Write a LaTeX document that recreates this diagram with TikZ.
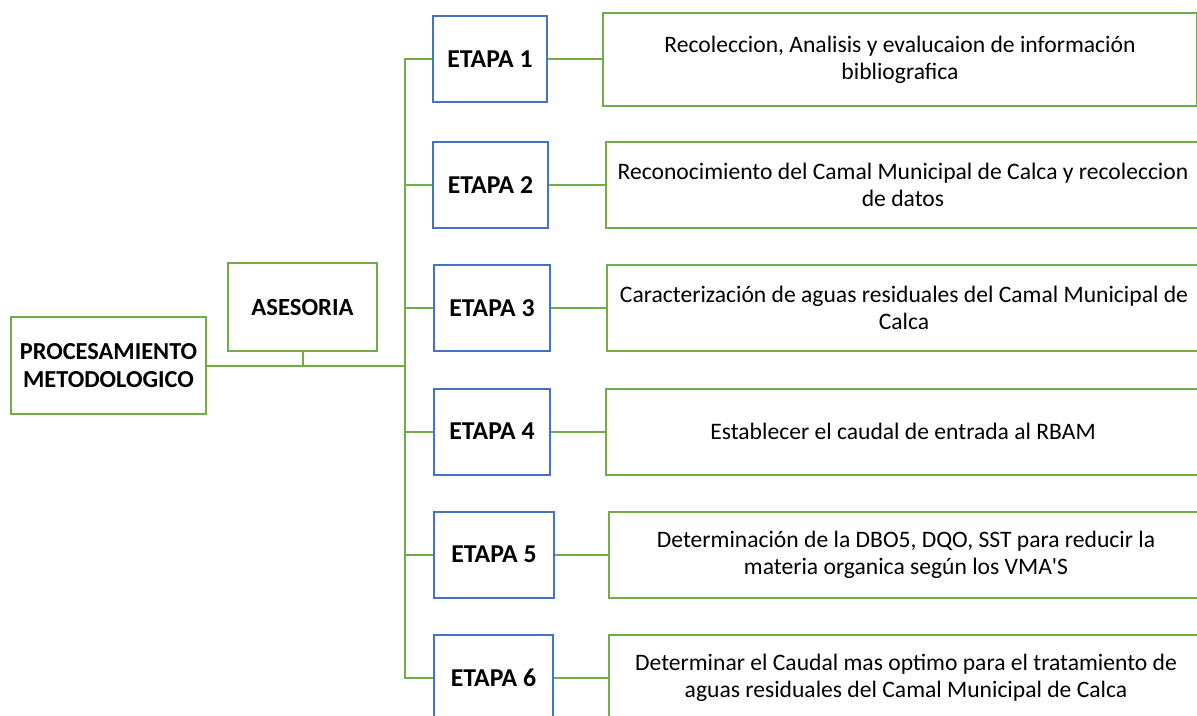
\documentclass[tikz,border=0pt]{standalone}
\usepackage{fontspec}
\setmainfont{Carlito}
\newfontfamily\plainfont{Carlito}
\definecolor{ogreen}{RGB}{112,173,71}
\definecolor{oblue}{RGB}{68,114,196}
\begin{document}
\begin{tikzpicture}[x=0.75pt,y=-0.75pt,
  gbox/.style={draw=ogreen,line width=1.5pt,fill=white,inner sep=0pt,align=center},
  bbox/.style={draw=oblue,line width=1.5pt,fill=white,inner sep=0pt,align=center,
    font=\fontsize{19.3}{22}\selectfont\bfseries,minimum height=86*0.75pt},
  tbox/.style={gbox,font=\fontsize{17.7}{20.25}\selectfont,minimum height=86*0.75pt,minimum width=594*0.75pt},
  conn/.style={draw=ogreen,line width=1.5pt}]
\useasboundingbox (0,0) rectangle (1197,715);
\node[gbox,font=\fontsize{18.3}{21}\selectfont\bfseries,minimum width=195*0.75pt,minimum height=97*0.75pt] (proc) at (108.5,365.5) {PROCESAMIENTO\\METODOLOGICO};
\node[gbox,font=\fontsize{18.5}{21}\selectfont\bfseries,minimum width=149*0.75pt,minimum height=88*0.75pt] (ases) at (302.5,307) {ASESORIA};
\coordinate (tr) at (405,365.5);
\node[bbox,minimum width=114*0.75pt] (e1) at (490,59) {ETAPA 1};
\node[bbox,minimum width=115*0.75pt] (e2) at (490.5,185) {ETAPA 2};
\node[bbox,minimum width=116*0.75pt] (e3) at (492,308) {ETAPA 3};
\node[bbox,minimum width=116*0.75pt] (e4) at (492,431.5) {ETAPA 4};
\node[bbox,minimum width=120*0.75pt] (e5) at (494,554.5) {ETAPA 5};
\node[bbox,minimum width=119*0.75pt] (e6) at (493.5,677.5) {ETAPA 6};
\node[tbox,minimum height=93*0.75pt] (r1) at (900,59.5) {Recoleccion, Analisis y evalucaion de información\\bibliografica};
\node[tbox] (r2) at (903,185) {Reconocimiento del Camal Municipal de Calca y recoleccion\\de datos};
\node[tbox] (r3) at (904,308) {Caracterización de aguas residuales del Camal Municipal de\\Calca};
\node[tbox] (r4) at (903,431.5) {Establecer el caudal de entrada al RBAM};
\node[tbox] (r5) at (906,555) {Determinación de la DBO5, DQO, SST para reducir la\\materia organica según los VMA{\plainfont '}S};
\node[tbox] (r6) at (906,677.5) {Determinar el Caudal mas optimo para el tratamiento de\\aguas residuales del Camal Municipal de Calca};
\draw[conn] (proc.east) -- (tr);
\draw[conn] (ases.south) -- (ases.south |- tr);
\draw[conn] (e1.west) -| (tr);
\draw[conn] (e6.west) -| (tr);
\foreach \i in {2,3,4,5} {\draw[conn] (e\i.west) -- (e\i.west -| tr);}
\foreach \i in {1,...,6} {\draw[conn] (e\i.east) -- (e\i.east -| r\i.west);}
\end{tikzpicture}
\end{document}
